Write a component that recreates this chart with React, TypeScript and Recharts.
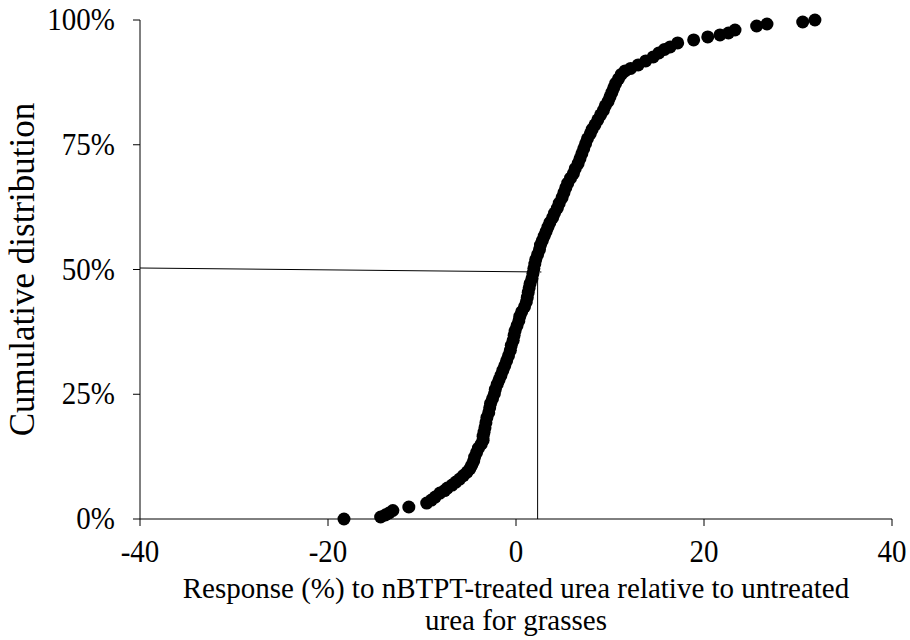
import React from "react";
import { ScatterChart, Scatter, XAxis, YAxis, ReferenceLine, Label } from "recharts";

// response (%) of each observation, sorted
const responseX = [
  -18.3, -14.4, -13.9, -13.5, -13.1, -11.4, -9.5, -9.0, -8.6, -8.1, -7.6, -7.3, -6.8, -6.4, -6.0,
  -5.6, -5.2, -4.9, -4.7, -4.5, -4.4, -4.2, -4.0, -3.7, -3.5, -3.5, -3.4, -3.3, -3.2, -3.1,
  -2.9, -2.8, -2.7, -2.5, -2.3, -2.2, -2.0, -1.8, -1.6, -1.4, -1.2, -1.0, -0.8, -0.6, -0.5,
  -0.3, -0.2, -0.1, 0.1, 0.3, 0.4, 0.6, 0.9, 1.1, 1.2, 1.3, 1.4, 1.5, 1.7, 1.8,
  1.9, 2.0, 2.1, 2.3, 2.5, 2.6, 2.8, 3.0, 3.2, 3.4, 3.6, 3.9, 4.1, 4.4, 4.6,
  4.9, 5.1, 5.3, 5.5, 5.8, 6.1, 6.3, 6.6, 6.8, 7.0, 7.2, 7.4, 7.6, 7.9, 8.1,
  8.4, 8.7, 9.0, 9.3, 9.5, 9.8, 10.0, 10.2, 10.4, 10.6, 10.9, 11.2, 11.6, 12.2, 13.0,
  13.8, 14.6, 15.2, 15.8, 16.4, 17.2, 18.9, 20.4, 21.7, 22.6, 23.3, 25.6, 26.7, 30.5, 31.8,
];

// cumulative distribution (%) for each observation
const cumulativeY = [
  0.0, 0.4, 0.8, 1.2, 1.7, 2.4, 3.2, 3.8, 4.4, 5.2, 5.7, 6.2, 6.8, 7.4, 8.0,
  8.7, 9.4, 10.1, 10.8, 11.6, 12.4, 13.3, 14.2, 15.0, 15.8, 16.6, 17.4, 18.3, 19.3, 20.3,
  21.3, 22.3, 23.2, 24.1, 25.1, 26.0, 27.0, 27.9, 28.8, 29.8, 30.7, 31.7, 32.7, 33.8, 34.8,
  35.8, 36.8, 37.7, 38.7, 39.7, 40.6, 41.5, 42.5, 43.5, 44.4, 45.4, 46.3, 47.2, 48.2, 49.2,
  50.2, 51.1, 52.0, 53.0, 54.0, 54.9, 55.8, 56.7, 57.6, 58.5, 59.4, 60.4, 61.3, 62.3, 63.3,
  64.4, 65.4, 66.4, 67.3, 68.3, 69.2, 70.2, 71.2, 72.2, 73.2, 74.2, 75.2, 76.2, 77.2, 78.1,
  79.0, 80.0, 81.0, 81.9, 82.8, 83.7, 84.6, 85.5, 86.4, 87.3, 88.2, 89.1, 89.8, 90.3, 91.0,
  91.8, 92.6, 93.4, 94.1, 94.6, 95.4, 96.0, 96.6, 97.0, 97.4, 98.0, 98.8, 99.2, 99.6, 100,
];

const xTicks = [-40, -20, 0, 20, 40];
const yTicks = [0, 25, 50, 75, 100];

// median guide lines
const medianLineH = [{ x: -40, y: 50.3 }, { x: 2.7, y: 49.5 }];
const medianLineV = [{ x: 2.3, y: 0 }, { x: 2.3, y: 49.9 }];

const data = responseX.map((x, i) => ({ x, y: cumulativeY[i] }));

const font = "'Liberation Serif', 'Times New Roman', serif";
const stretch = 1.1; // tick text in the original is a little taller than wide

const Dot = (props: any) => <circle cx={props.cx} cy={props.cy} r={6.5} fill="#000" />;

const XTick = ({ x, y, payload }: any) => (
  <g transform={`translate(${x},${y + 24}) scale(1,${stretch})`}>
    <text textAnchor="middle" fontFamily={font} fontSize={29} fill="#000">
      {payload.value}
    </text>
  </g>
);

const YTick = ({ x, y, payload }: any) => (
  <g transform={`translate(${x},${y + 10}) scale(1,${stretch})`}>
    <text textAnchor="end" fontFamily={font} fontSize={29} fill="#000">
      {payload.value}%
    </text>
  </g>
);

export default function App() {
  return (
    <div style={{ position: "absolute", left: 0, top: 0, width: 910, height: 640 }}>
      <ScatterChart width={910} height={640} margin={{ top: 20, right: 18, left: 0, bottom: 0 }}>
        <XAxis
          type="number"
          dataKey="x"
          domain={[-40, 40]}
          ticks={xTicks}
          height={121}
          tickSize={7}
          tickMargin={12}
          stroke="#000"
          tick={<XTick />}
        >
          <Label
            content={(p: any) => {
              const vb = p.viewBox;
              const cx = vb.x + vb.width / 2;
              return (
                <text x={cx} textAnchor="middle" fontFamily={font} fontSize={29} fill="#000">
                  <tspan x={cx} y={vb.y + 79}>Response (%) to nBTPT-treated urea relative to untreated</tspan>
                  <tspan x={cx} y={vb.y + 111}>urea for grasses</tspan>
                </text>
              );
            }}
          />
        </XAxis>
        <YAxis
          type="number"
          dataKey="y"
          domain={[0, 100]}
          ticks={yTicks}
          width={140}
          tickSize={7}
          tickMargin={18}
          stroke="#000"
          tick={<YTick />}
        >
          <Label
            content={(p: any) => {
              const vb = p.viewBox;
              const cy = vb.y + vb.height / 2;
              return (
                <text
                  x={34}
                  y={cy}
                  transform={`rotate(-90 34 ${cy})`}
                  textAnchor="middle"
                  fontFamily={font}
                  fontSize={35}
                  fill="#000"
                >
                  Cumulative distribution
                </text>
              );
            }}
          />
        </YAxis>
        <Scatter data={data} shape={Dot} isAnimationActive={false} />
        <ReferenceLine segment={medianLineH} stroke="#000" strokeWidth={1} />
        <ReferenceLine segment={medianLineV} stroke="#000" strokeWidth={1} />
      </ScatterChart>
    </div>
  );
}
